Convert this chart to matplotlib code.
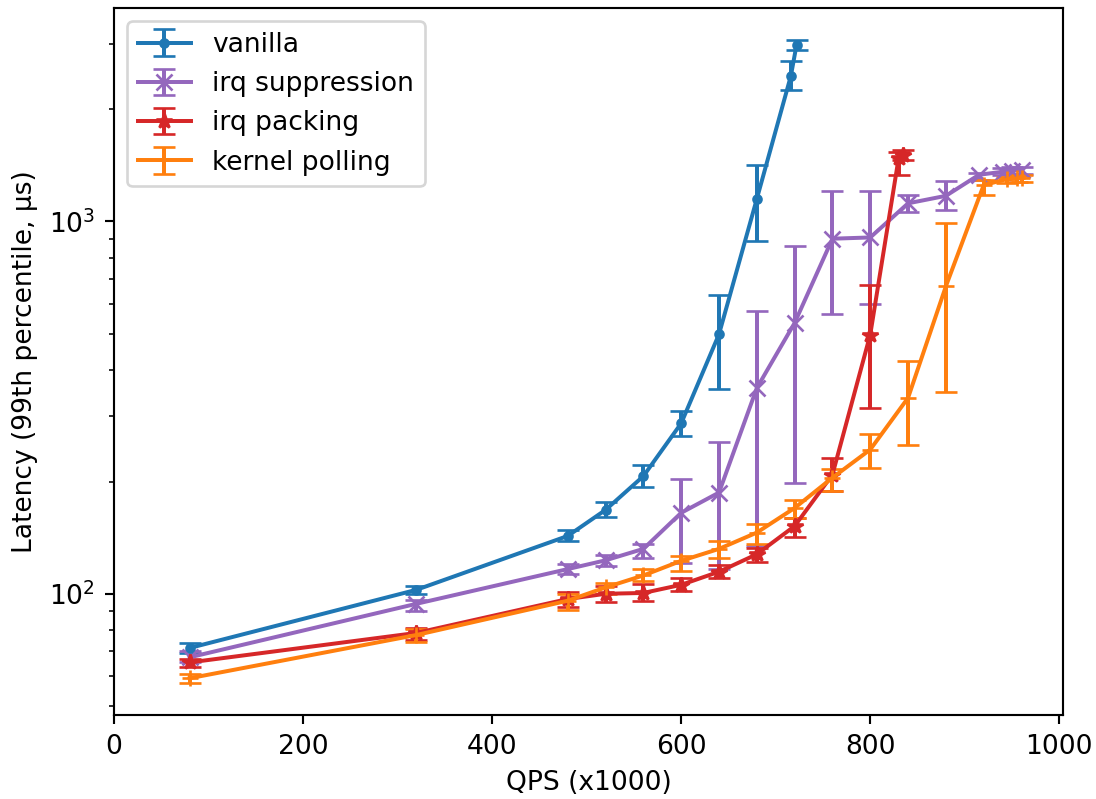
import matplotlib
matplotlib.use("Agg")
import matplotlib.pyplot as plt

# ----- Data (QPS in thousands, latency in us) -----
vanilla_x = [80, 320, 480, 520, 560, 600, 640, 680, 716, 722]
vanilla_y = [71.5, 102.5, 143, 168, 207, 287, 498, 1150, 2460, 2980]
vanilla_lo = [69.5, 99.8, 139, 161, 194, 266, 355, 884, 2260, 2880]
vanilla_hi = [73.6, 105, 148, 176, 222, 310, 634, 1422, 2690, 3070]

supp_x = [80, 320, 480, 520, 560, 600, 640, 680, 720, 760, 800, 840, 880,
          915, 940, 950, 960]
supp_y = [67.5, 94, 116.5, 123, 132, 165, 187, 357, 534, 899, 906, 1119,
          1172, 1335, 1360, 1370, 1375]
supp_lo = [65.5, 90, 113, 119, 125, 120.6, 116.5, 134.6, 198, 566, 601,
           1060, 1075, 1290, 1330, 1340, 1345]
supp_hi = [70, 96.5, 120, 127, 136, 204, 255, 574, 857, 1211, 1211, 1177,
           1281, 1346, 1390, 1400, 1405]

pack_x = [80, 320, 480, 520, 560, 600, 640, 680, 720, 760, 800, 830, 835]
pack_y = [65.4, 78.5, 96.8, 100, 100.5, 105.7, 114.6, 127.7, 152, 209, 497,
          1480, 1510]
pack_lo = [63.5, 75, 92, 95, 95.5, 101.5, 110, 122, 142, 189, 316, 1334,
           1460]
pack_hi = [67, 81, 101, 105, 106, 110, 119.5, 133, 160, 232, 676, 1540, 1560]

poll_x = [80, 320, 480, 520, 560, 600, 640, 680, 720, 760, 800, 840, 880,
          920, 945, 955, 960]
poll_y = [59.3, 77.5, 95.8, 104, 112, 122.6, 132, 146, 170, 205, 244, 336,
          670, 1253, 1300, 1305, 1310]
poll_lo = [57.6, 74, 90.5, 100, 108, 115, 125, 136, 160, 189, 218, 251, 348,
           1181, 1270, 1275, 1280]
poll_hi = [60.8, 80.5, 100, 107, 116.5, 126.5, 139, 154, 179, 216, 268, 421,
           989, 1291, 1320, 1325, 1330]

series = [
    ("vanilla", vanilla_x, vanilla_y, vanilla_lo, vanilla_hi, ".-", "tab:blue"),
    ("irq suppression", supp_x, supp_y, supp_lo, supp_hi, "x-", "tab:purple"),
    ("irq packing", pack_x, pack_y, pack_lo, pack_hi, "*-", "tab:red"),
    ("kernel polling", poll_x, poll_y, poll_lo, poll_hi, "+-", "tab:orange"),
]

# ----- Plot -----
dpi = 191
fig = plt.figure(figsize=(1096 / dpi, 799 / dpi), dpi=dpi)
ax = fig.add_axes([0.104, 0.105, 0.866, 0.885])

for label, xs, ys, lo, hi, fmt, color in series:
    yerr = [[y - l for y, l in zip(ys, lo)], [h - y for y, h in zip(ys, hi)]]
    ax.errorbar(xs, ys, yerr=yerr, fmt=fmt, color=color, capsize=4,
                label=label)

ax.set_yscale("log")
ax.set_xlim(left=0)
ax.set_xlabel("QPS (x1000)")
ax.set_ylabel("Latency (99th percentile, µs)")
ax.legend(loc="upper left")

fig.savefig("out.png", dpi=dpi)
